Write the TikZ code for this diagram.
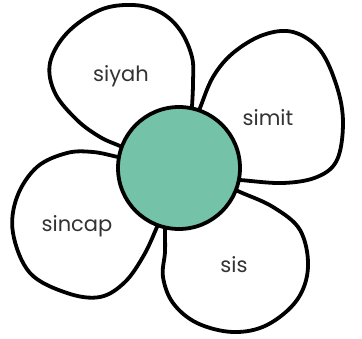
\documentclass[tikz,border=0pt]{standalone}
\usepackage{fontspec}
\setmainfont{Poppins}
\definecolor{centergreen}{HTML}{74C2A8}
\definecolor{txtgray}{HTML}{333333}
\tikzset{
  petal/.style={draw=black, fill=white, line width=3.8pt, line join=round},
  centre/.style={draw=black, fill=centergreen, line width=3.8pt},
  word/.style={text=txtgray, font=\fontsize{21}{24}\selectfont, inner sep=0pt}
}
\begin{document}
\begin{tikzpicture}[x=1pt,y=-1pt]
\useasboundingbox (0,0) rectangle (362,338);
\coordinate (m) at (179,168);
% siyah petal
\draw[petal] (m) -- plot[smooth, tension=0.6] coordinates {
 (135,153) (120,146) (100,137) (77,120) (55,93) (50,63) (67,33) (100,10)
 (133,5) (160,12) (180,30) (192,57) (193,83) (192,107) (191,125)} -- cycle;
% simit petal
\draw[petal] (m) -- plot[smooth, tension=0.6] coordinates {
 (194,123) (200,108) (213,77) (233,53) (263,35) (293,32) (320,50) (337,87)
 (343,123) (337,160) (317,177) (283,183) (240,180) (225,179)} -- cycle;
% sis petal
\draw[petal] (m) -- plot[smooth, tension=0.6] coordinates {
 (225,185) (240,192) (273,207) (300,230) (308,267) (297,300) (267,325)
 (233,332) (197,323) (173,303) (163,277) (165,252) (165,230) (166,215)} -- cycle;
% sincap petal
\draw[petal] (m) -- plot[smooth, tension=0.6] coordinates {
 (163,213) (157,227) (144,255) (125,282) (100,297) (67,293) (30,273) (13,233)
 (17,197) (37,167) (67,153) (93,152) (118,157) (133,160)} -- cycle;
% centre
\node[centre, circle, minimum size=122pt, inner sep=0pt] (c) at (m) {};
% labels
\node[word] (siyah) at (121,76) {siyah};
\node[word] (simit) at (268,118) {simit};
\node[word] (sis) at (234,265) {sis};
\node[word] (sincap) at (77,226) {sincap};
\end{tikzpicture}
\end{document}
